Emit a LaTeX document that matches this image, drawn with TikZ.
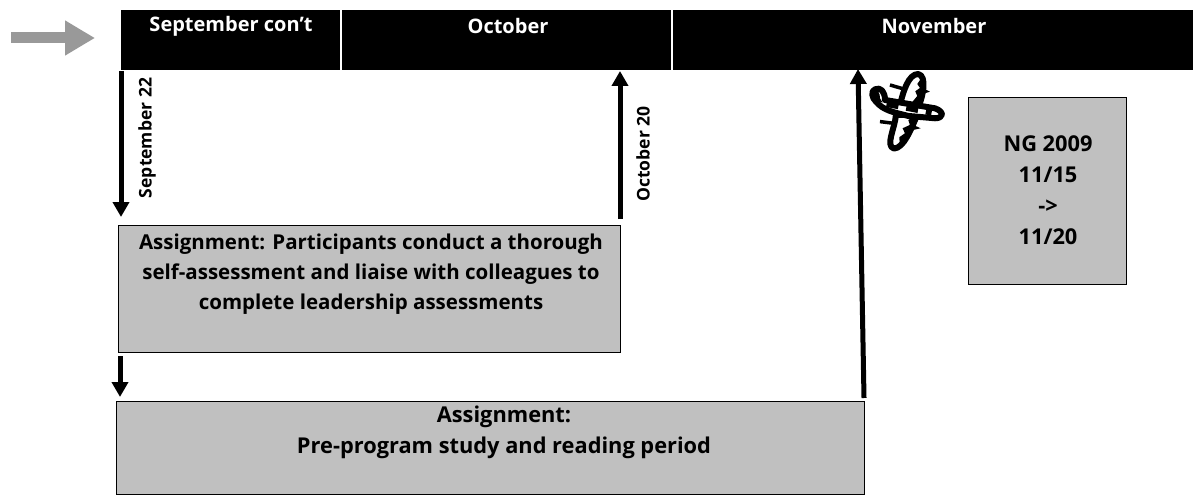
\documentclass[tikz,border=0pt]{standalone}
\usepackage{fontspec}
\setmainfont{Open Sans}
\usetikzlibrary{arrows.meta}
\definecolor{boxgray}{RGB}{192,192,192}
\definecolor{arrowgray}{RGB}{153,153,153}
\tikzset{
  x=1pt,y=-1pt,
  head/.style={fill=black,draw=none,minimum height=60pt,inner sep=0pt,anchor=north west},
  headtext/.style={text=white,font=\fontsize{20}{22}\selectfont\bfseries,inner sep=0pt},
  graybox/.style={fill=boxgray,draw=black,line width=1.2pt,inner sep=0pt,anchor=north west},
  boxtext/.style={align=center,inner sep=0pt,font=\fontsize{20.5}{30}\selectfont\bfseries},
  boxtextb/.style={align=center,inner sep=0pt,font=\fontsize{21.8}{31}\selectfont\bfseries},
  arr/.style={line width=5pt,-{Triangle[length=15pt,width=16pt]}},
  datelab/.style={rotate=90,font=\fontsize{17.5}{18}\selectfont\bfseries,inner sep=0pt}
}
\begin{document}
\begin{tikzpicture}
\useasboundingbox (0,0) rectangle (1193,497);
% header bars
\node[head,minimum width=219pt] (sep) at (121,10) {};
\node[head,minimum width=329pt] (oct) at (342,10) {};
\node[head,minimum width=520pt] (nov) at (673,10) {};
\node[headtext] (septxt) at (231,26) {September con't};
\node[headtext] (octtxt) at (508,26) {October};
\node[headtext] (novtxt) at (934,26) {November};
% grey arrow
\coordinate (gs) at (11,38);
\coordinate (ge) at (95,38);
\draw[arrowgray,line width=11pt,-{Triangle[length=30pt,width=33pt]}] (gs) -- (ge);
% boxes
\node[graybox,minimum width=502pt,minimum height=127pt] (b1) at (118,225) {};
\node[boxtext] (b1t) at (371,274) {Assignment: Participants conduct a thorough\\self-assessment and liaise with colleagues to\\complete leadership assessments};
\node[graybox,minimum width=748pt,minimum height=93pt] (b2) at (116,401) {};
\node[boxtextb] (b2t) at (504,432) {Assignment:\\Pre-program study and reading period};
\node[graybox,minimum width=158pt,minimum height=187pt] (b3) at (968,97) {};
\node[boxtextb] (b3t) at (1048,190) {NG 2009\\11/15\\->\\11/20};
% arrows
\coordinate (a1s) at (121,71);
\coordinate (a1e) at (121,217);
\draw[arr] (a1s) -- (a1e);
\node[datelab] (l1) at (147,138) {September 22};
\coordinate (a2s) at (620,219);
\coordinate (a2e) at (620,71);
\draw[arr] (a2s) -- (a2e);
\node[datelab] (l2) at (643,154) {October 20};
\coordinate (a3s) at (120,356);
\coordinate (a3e) at (120,397);
\draw[arr] (a3s) -- (a3e);
\coordinate (a4s) at (864,398);
\coordinate (a4e) at (858,69);
\draw[arr] (a4s) -- (a4e);
% plane
\begin{scope}[shift={(840,60)},x=0.333pt,y=-0.333pt]
\draw[line width=3.5pt] (150,75) -- (188,86);
\draw[line width=3.5pt] (120,185) -- (160,190);
\fill (250,85) -- (270,95) -- (240,105) -- cycle;
\fill (220,195) -- (242,205) -- (212,212) -- cycle;
% upper wing
\draw[fill=white,draw=black,line width=6pt,line join=round]
 (180,135) .. controls (190,95) and (205,42) .. (235,42) .. controls (262,48) and (250,110) .. (232,150) -- cycle;
\fill (244,55) -- (232,72) -- (240,84) -- (226,94) -- (232,108) -- (218,125) -- (228,145) .. controls (250,105) and (258,70) .. (244,55) -- cycle;
% lower wing
\draw[fill=white,draw=black,line width=6pt,line join=round]
 (168,165) .. controls (165,205) and (135,258) .. (162,266) .. controls (192,264) and (212,210) .. (232,165) -- cycle;
\fill (225,170) -- (205,180) -- (210,195) -- (188,205) -- (195,220) -- (178,232) -- (180,258) .. controls (198,250) and (212,205) .. (225,170) -- cycle;
% fuselage
\draw[fill=white,draw=black,line width=6pt,line join=round]
 (135,120) -- (285,145) .. controls (314,155) and (312,175) .. (285,175) -- (205,168) .. controls (165,158) and (130,152) .. (108,125) .. controls (96,115) and (92,93) .. (105,88) .. controls (122,80) and (135,95) .. (135,120) -- cycle;
\fill (100,92) .. controls (115,88) and (120,100) .. (120,115) -- (128,128) -- (112,122) .. controls (105,115) and (100,105) .. (100,92) -- cycle;
\draw[line width=6pt,dash pattern=on 12pt off 8pt] (140,132) -- (275,158);
\end{scope}
\end{tikzpicture}
\end{document}
